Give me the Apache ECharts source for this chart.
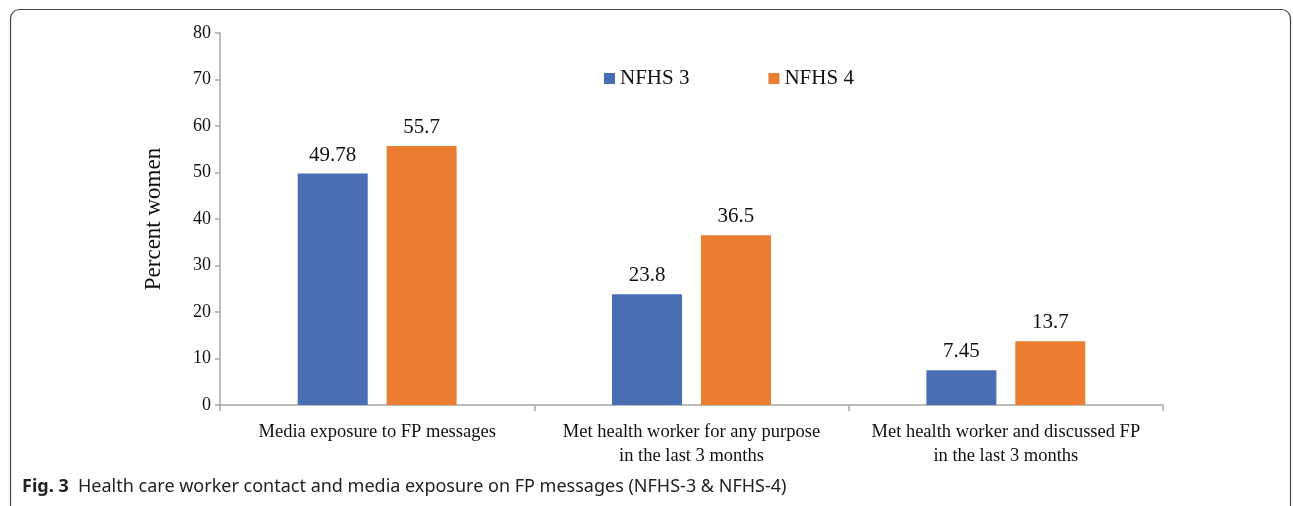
<!DOCTYPE html>
<html lang="en">
<head>
    <meta charset="UTF-8">
    <title>Fig. 3</title>
    <style>
        html, body { margin: 0; padding: 0; background: #fff; }
        #main { width: 1293px; height: 506px; }
    </style>
</head>
<body>
    <div id="main"></div>
    <script src="https://cdn.jsdelivr.net/npm/echarts@6/dist/echarts.min.js"></script>
    <script>
        // data
        var categories = [
            'Media exposure to FP messages',
            'Met health worker for any purpose\nin the last 3 months',
            'Met health worker and discussed FP\nin the last 3 months'
        ];
        var seriesNames = ['NFHS 3', 'NFHS 4'];
        var nfhs3 = [49.78, 23.8, 7.45];
        var nfhs4 = [55.7, 36.5, 13.7];
        var yTicks = { min: 0, max: 80, interval: 10 };
        var colors = ['#4a6eb4', '#eb7d33'];
        var caption = 'Health care worker contact and media exposure on FP messages (NFHS-3 & NFHS-4)';

        var serif = '"Liberation Serif", "Times New Roman", serif';
        var myChart = echarts.init(document.getElementById('main'));

        function makeSeries(name, values, color) {
            return {
                name: name,
                type: 'bar',
                data: values,
                barWidth: 70,
                barGap: '27%',
                itemStyle: { color: color },
                label: {
                    show: true,
                    position: 'top',
                    distance: 8,
                    color: '#111',
                    fontFamily: serif,
                    fontSize: 21
                }
            };
        }

        var option = {
            animation: false,
            backgroundColor: '#fff',
            legend: {
                data: seriesNames,
                left: 599,
                top: 63,
                itemWidth: 11,
                itemHeight: 11,
                itemGap: 79,
                icon: 'rect',
                textStyle: { fontFamily: serif, fontSize: 21, color: '#111' }
            },
            grid: { left: 220, right: 130, top: 33, bottom: 101 },
            xAxis: {
                type: 'category',
                data: categories,
                axisLine: { lineStyle: { color: '#a6a6a6', width: 1.5 } },
                axisTick: { show: true, length: 6, lineStyle: { color: '#a6a6a6', width: 1.5 } },
                axisLabel: {
                    interval: 0,
                    margin: 15,
                    color: '#111',
                    fontFamily: serif,
                    fontSize: 18.5,
                    lineHeight: 24
                }
            },
            yAxis: {
                type: 'value',
                min: yTicks.min,
                max: yTicks.max,
                interval: yTicks.interval,
                name: 'Percent women',
                nameLocation: 'middle',
                nameGap: 55,
                nameTextStyle: { fontFamily: serif, fontSize: 23, color: '#111' },
                splitLine: { show: false },
                axisLine: { show: true, lineStyle: { color: '#a6a6a6', width: 1.5 } },
                axisTick: { show: true, length: 5, lineStyle: { color: '#a6a6a6', width: 1.5 } },
                axisLabel: {
                    margin: 9,
                    color: '#111',
                    fontFamily: serif,
                    fontSize: 18
                }
            },
            series: [
                makeSeries(seriesNames[0], nfhs3, colors[0]),
                makeSeries(seriesNames[1], nfhs4, colors[1])
            ],
            graphic: [
                {
                    type: 'rect',
                    shape: { x: 10.5, y: 9.5, width: 1280, height: 506, r: 9 },
                    style: { fill: null, stroke: '#444', lineWidth: 1.2 },
                    silent: true
                },
                {
                    type: 'text',
                    left: 22,
                    top: 478,
                    style: {
                        text: '{b|Fig. 3}  ' + caption,
                        fontFamily: '"Noto Sans", sans-serif',
                        fontSize: 18,
                        fill: '#222',
                        rich: {
                            b: { fontFamily: '"Noto Sans", sans-serif', fontSize: 18, fontWeight: 'bold', fill: '#222' }
                        }
                    }
                }
            ]
        };
        myChart.setOption(option);
    </script>
</body>
</html>
